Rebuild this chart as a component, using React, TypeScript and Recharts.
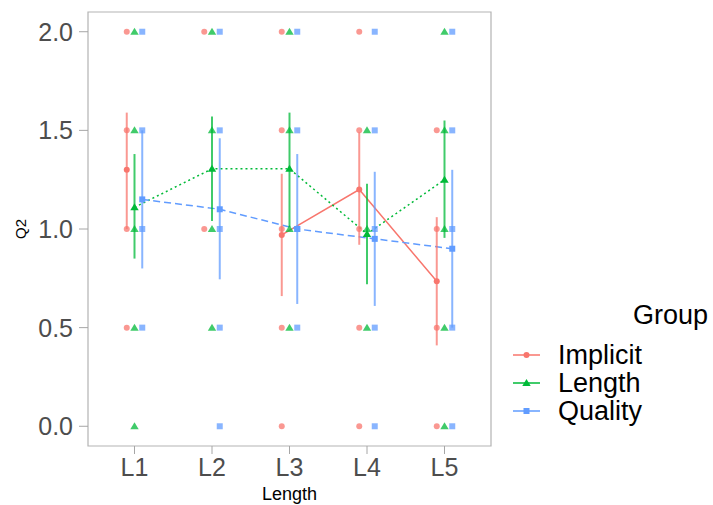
import {
  ComposedChart,
  ErrorBar,
  Line,
  ReferenceArea,
  Scatter,
  XAxis,
  YAxis,
} from "recharts";

const LEVELS = ["L1", "L2", "L3", "L4", "L5"];
const GROUPS = ["Implicit", "Length", "Quality"];
const COLORS = ["#F8766D", "#00BA38", "#619CFF"];
const DASHES = [undefined, "2 3", "7 4"];
const Y_TICKS = [0, 0.5, 1, 1.5, 2];

// means and interval ends per level (null = no mean drawn)
const IMPLICIT_MEAN = [1.3, null, 0.97, 1.2, 0.735];
const IMPLICIT_LOW = [1.0, null, 0.66, 0.92, 0.41];
const IMPLICIT_HIGH = [1.59, null, 1.28, 1.49, 1.06];
const LENGTH_MEAN = [1.11, 1.305, 1.305, 0.975, 1.25];
const LENGTH_LOW = [0.85, 1.04, 1.01, 0.72, 0.955];
const LENGTH_HIGH = [1.38, 1.57, 1.59, 1.23, 1.55];
const QUALITY_MEAN = [1.15, 1.1, 1.0, 0.95, 0.9];
const QUALITY_LOW = [0.8, 0.745, 0.62, 0.61, 0.5];
const QUALITY_HIGH = [1.5, 1.46, 1.38, 1.29, 1.3];

// raw answers seen at each level
const IMPLICIT_RAW = [[2, 1.5, 1, 0.5], [2, 1], [2, 1.5, 1, 0.5, 0], [2, 1.5, 1, 0.5, 0], [1.5, 1, 0.5, 0]];
const LENGTH_RAW = [[2, 1.5, 1, 0.5, 0], [2, 1.5, 1, 0.5], [2, 1.5, 1, 0.5], [1.5, 1, 0.5], [2, 1.5, 1, 0.5, 0]];
const QUALITY_RAW = [[2, 1.5, 1, 0.5], [2, 1.5, 1, 0.5, 0], [2, 1.5, 1, 0.5], [2, 1.5, 1, 0.5, 0], [2, 1.5, 1, 0.5, 0]];

const DODGE = [-0.1, 0, 0.1];
const FONT = "'Liberation Sans', Arial, sans-serif";

type Num = number | null;

function means(mean: Num[], low: Num[], high: Num[], g: number) {
  return LEVELS.map((_, i) => ({
    x: i + 1 + DODGE[g],
    y: mean[i],
    err: mean[i] == null ? null : [(mean[i] as number) - (low[i] as number), (high[i] as number) - (mean[i] as number)],
  }));
}

function raw(vals: number[][], g: number) {
  return vals.flatMap((arr, i) => arr.map((v) => ({ x: i + 1 + DODGE[g], y: v })));
}

const MEANS = [
  means(IMPLICIT_MEAN, IMPLICIT_LOW, IMPLICIT_HIGH, 0),
  means(LENGTH_MEAN, LENGTH_LOW, LENGTH_HIGH, 1),
  means(QUALITY_MEAN, QUALITY_LOW, QUALITY_HIGH, 2),
];
const RAWS = [raw(IMPLICIT_RAW, 0), raw(LENGTH_RAW, 1), raw(QUALITY_RAW, 2)];

function Mark({ g, cx, cy, opacity }: { g: number; cx: number; cy: number; opacity: number }) {
  const c = COLORS[g];
  if (g === 0) return <circle cx={cx} cy={cy} r={3} fill={c} fillOpacity={opacity} />;
  if (g === 1)
    return <polygon points={`${cx},${cy - 4} ${cx - 4.2},${cy + 3} ${cx + 4.2},${cy + 3}`} fill={c} fillOpacity={opacity} />;
  return <rect x={cx - 3} y={cy - 3} width={6} height={6} fill={c} fillOpacity={opacity} />;
}

function GroupLegend() {
  return (
    <div style={{ position: "absolute", left: 505, top: 298, width: 208, height: 130, fontFamily: FONT, color: "#000" }}>
      <div style={{ position: "absolute", left: 128, top: 1, fontSize: 27, lineHeight: "32px" }}>Group</div>
      {GROUPS.map((name, g) => (
        <div
          key={name}
          style={{ position: "absolute", left: 0, top: 43 + g * 28, height: 28, display: "flex", alignItems: "center" }}
        >
          <svg width={40} height={28}>
            <line x1={8} x2={35} y1={14} y2={14} stroke={COLORS[g]} strokeWidth={1.5} />
            <Mark g={g} cx={21.5} cy={14} opacity={1} />
          </svg>
          <span style={{ fontSize: 27, lineHeight: "28px", marginLeft: 13 }}>{name}</span>
        </div>
      ))}
    </div>
  );
}

// rotated y title, centred on the panel's middle
const yTitle = (p: any) => {
  const vb = p.viewBox || { x: 0, y: 12, height: 434 };
  const cy = vb.y + vb.height / 2;
  return (
    <text x={20} y={cy} transform={`rotate(-90 20 ${cy})`} textAnchor="middle" dominantBaseline="central" fill="#000" fontSize={15} fontFamily={FONT}>
      Q2
    </text>
  );
};

export default function App() {
  return (
    <div style={{ position: "absolute", left: 0, top: 0, width: 713, height: 505, background: "#fff" }}>
      <ComposedChart width={713} height={505} margin={{ top: 12, right: 222, bottom: 0, left: 0 }}>
        <XAxis
          dataKey="x"
          type="number"
          domain={[0.4, 5.6]}
          ticks={[1, 2, 3, 4, 5]}
          tickFormatter={(v) => LEVELS[v - 1]}
          axisLine={false}
          tickSize={8}
          tickMargin={4}
          tickLine={{ stroke: "#A6A6A6" }}
          tick={{ fill: "#4D4D4D", fontSize: 25, fontFamily: FONT }}
          height={59}
          label={{ value: "Length", position: "insideBottom", offset: 5, fill: "#000", fontSize: 18, fontFamily: FONT }}
          allowDataOverflow
        />
        <YAxis
          dataKey="y"
          type="number"
          domain={[-0.1, 2.1]}
          ticks={Y_TICKS}
          tickFormatter={(v) => v.toFixed(1)}
          axisLine={false}
          tickSize={9}
          tickMargin={6}
          tickLine={{ stroke: "#A6A6A6" }}
          tick={{ fill: "#4D4D4D", fontSize: 25, fontFamily: FONT }}
          width={88}
          label={{ content: yTitle }}
          allowDataOverflow
        />
        <ReferenceArea x1={0.4} x2={5.6} y1={-0.1} y2={2.1} fill="none" stroke="#B3B3B3" strokeWidth={1.2} />
        {GROUPS.map((name, g) => (
          <Scatter
            key={"raw" + name}
            data={RAWS[g]}
            isAnimationActive={false}
            shape={(p: any) => <Mark g={g} cx={p.cx} cy={p.cy} opacity={0.75} />}
          />
        ))}
        {GROUPS.map((name, g) => (
          <Line
            key={"line" + name}
            data={MEANS[g]}
            dataKey="y"
            type="linear"
            stroke={COLORS[g]}
            strokeWidth={1.5}
            strokeDasharray={DASHES[g]}
            dot={false}
            activeDot={false}
            connectNulls={false}
            isAnimationActive={false}
          />
        ))}
        {GROUPS.map((name, g) => (
          <Scatter
            key={"mean" + name}
            name={name}
            data={MEANS[g].filter((d) => d.y != null)}
            isAnimationActive={false}
            shape={(p: any) => <Mark g={g} cx={p.cx} cy={p.cy} opacity={1} />}
          >
            <ErrorBar dataKey="err" direction="y" width={0} stroke={COLORS[g]} strokeOpacity={0.75} strokeWidth={2} />
          </Scatter>
        ))}
      </ComposedChart>
      <GroupLegend />
    </div>
  );
}
